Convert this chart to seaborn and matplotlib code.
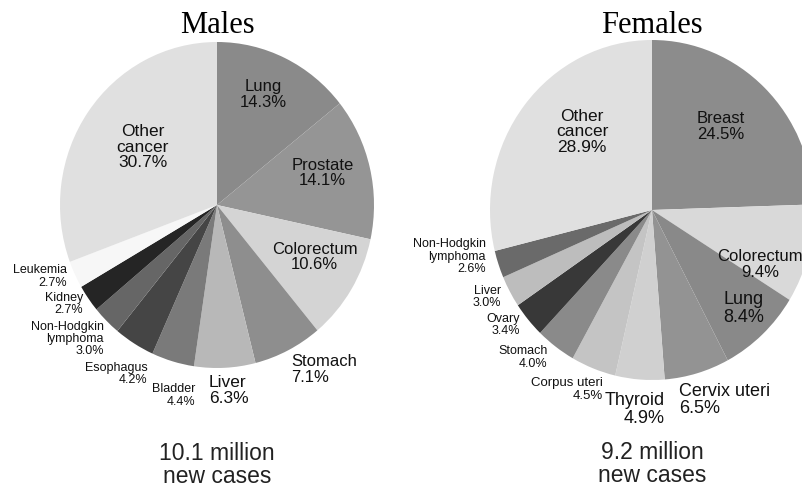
import numpy as np
import matplotlib.pyplot as plt
import seaborn as sns

sns.set_theme(style="white")
plt.rcParams["font.family"] = ["Liberation Sans", "DejaVu Sans"]

# Data (percent of new cases)
male_sites = ["Lung", "Prostate", "Colorectum", "Stomach", "Liver", "Bladder",
              "Esophagus", "Non-Hodgkin\nlymphoma", "Kidney", "Leukemia", "Other\ncancer"]
male_pct = [14.3, 14.1, 10.6, 7.1, 6.3, 4.4, 4.2, 3.0, 2.7, 2.7, 30.7]
male_total = "10.1 million\nnew cases"

female_sites = ["Breast", "Colorectum", "Lung", "Cervix uteri", "Thyroid", "Corpus uteri",
                "Stomach", "Ovary", "Liver", "Non-Hodgkin\nlymphoma", "Other\ncancer"]
female_pct = [24.5, 9.4, 8.4, 6.5, 4.9, 4.5, 4.0, 3.4, 3.0, 2.6, 28.9]
female_total = "9.2 million\nnew cases"

# Styling
male_colors = ["#8a8a8a", "#959595", "#d4d4d4", "#8e8e8e", "#b8b8b8", "#7a7a7a",
               "#454545", "#666666", "#252525", "#f7f7f7", "#e0e0e0"]
female_colors = ["#8c8c8c", "#d9d9d9", "#898989", "#939393", "#d0d0d0", "#c4c4c4",
                 "#8a8a8a", "#383838", "#bdbdbd", "#6a6a6a", "#e0e0e0"]

# label layout: (radius, angle nudge, fontsize, ha, multialignment)
male_lab = [(0.74, 2, 12, "center", "center"), (0.70, 3, 12, "center", "center"),
            (0.70, 4, 12, "center", "center"), (1.115, -2, 12, "left", "left"),
            (1.14, 0.8, 12.5, "center", "left"), (1.20, 3, 9, "center", "right"),
            (1.22, 0, 9, "center", "right"), (1.26, -4.5, 9, "center", "right"),
            (1.15, -3, 9, "center", "right"), (1.21, -4, 9, "center", "right"),
            (0.59, -2, 12.5, "center", "center")]
female_lab = [(0.65, 3, 12, "center", "center"), (0.74, -10.8, 12, "center", "center"),
              (0.81, 1.2, 13, "center", "center"), (1.13, -7.8, 13, "left", "left"),
              (1.18, -0.9, 13, "center", "right"), (1.18, -5.2, 9.5, "center", "right"),
              (1.18, -6.1, 9, "center", "right"), (1.14, -3.7, 9, "center", "right"),
              (1.14, -2, 9, "center", "right"), (1.28, -6.2, 9, "center", "right"),
              (0.63, -8.9, 12.5, "center", "center")]

W, H = 803, 490
fig = plt.figure(figsize=(W / 100, H / 100), dpi=100)


def draw(title, sites, pct, colors, labs, total, cx, cy, rx, ry, total_y):
    ax = fig.add_axes([0, 0, 1, 1])
    wedges, _ = ax.pie(pct, colors=colors, startangle=90, counterclock=False,
                       wedgeprops=dict(linewidth=0))
    ax.set_aspect("auto")
    ax.set_xlim(-cx / rx, (W - cx) / rx)
    ax.set_ylim(-(H - cy) / ry, cy / ry)
    ax.axis("off")
    for w, name, p, (r, dt, fs, ha, ma) in zip(wedges, sites, pct, labs):
        th = np.deg2rad((w.theta1 + w.theta2) / 2 + dt)
        ax.text(r * np.cos(th), r * np.sin(th), f"{name}\n{p:.1f}%", fontsize=fs,
                ha=ha, va="center", multialignment=ma, linespacing=1.05, color="#111111")
    ax.text(0, (cy - 33) / ry, title, family="Liberation Serif", fontsize=22,
            ha="center", va="baseline", color="black")
    ax.text(0, total_y, total, fontsize=16.5, ha="center", va="center",
            linespacing=0.95, color="#222222")


draw("Males", male_sites, male_pct, male_colors, male_lab, male_total,
     217, 205, 157, 163, -(465 - 205) / 163)
draw("Females", female_sites, female_pct, female_colors, female_lab, female_total,
     652, 210, 162, 170, -(464 - 210) / 170)

fig.savefig("out.png", dpi=100, facecolor="white")
